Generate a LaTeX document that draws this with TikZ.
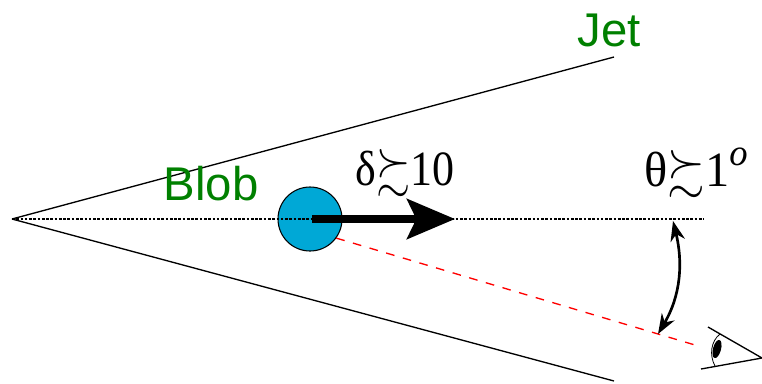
\documentclass[tikz,border=0pt]{standalone}
\usepackage{xcolor}
\usepackage{amsmath}
\usepackage{amssymb}
\usepackage{fontspec}
\setmainfont{Liberation Serif}
\newfontfamily\labelfont{Liberation Sans}
\usetikzlibrary{arrows.meta,positioning,shapes.geometric}
\definecolor{blobblue}{HTML}{00A8D6}
\definecolor{labelgreen}{HTML}{008000}

\begin{document}
\begin{tikzpicture}[
        x=0.75pt,
        y=-0.75pt,
        greenlabel/.style={
            text=labelgreen,
            inner sep=0pt,
            font=\labelfont\fontsize{35.5}{38}\selectfont
        },
        mathlabel/.style={
            inner sep=0pt,
            transform shape,
            yscale=1.12,
            font=\fontsize{33}{36}\selectfont
        },
        jetline/.style={line width=1pt},
        axisline/.style={line width=0.85pt, dash pattern=on 2pt off 1.2pt},
        sightline/.style={red, line width=1pt, dash pattern=on 6.5pt off 6.5pt},
        velocity/.style={line width=5.5pt, -{Stealth[length=36pt, width=30pt, inset=7pt]}},
        angle/.style={line width=2pt, {Stealth[length=15pt, width=11pt]}-{Stealth[length=15pt, width=11pt]}}
    ]
        \useasboundingbox (0,0) rectangle (762,383);

        % Jet cone and axis
        \coordinate (apex) at (12,219);
        \coordinate (jettop) at (614,57);
        \coordinate (jetbottom) at (614,381);
        \coordinate (axisend) at (704,219);
        \coordinate (sightend) at (695,345);
        \draw[jetline] (apex) -- (jettop);
        \draw[jetline] (apex) -- (jetbottom);

        % Blob and velocity arrow
        \node[circle, draw, fill=blobblue, line width=0.8pt, minimum size=48pt, inner sep=0pt] (blob) at (310,219) {};
        \draw[axisline] (apex) -- (axisend);
        \coordinate (arrowtip) at (455,219);
        \draw[velocity] ([xshift=1.5pt]blob.center) -- (arrowtip);
        \draw[sightline] (blob.-36) -- (sightend);

        % Viewing angle
        \coordinate (angletop) at (673,221);
        \coordinate (anglebottom) at (658,334);
        \draw[angle] (angletop) .. controls (683,262) and (681,295) .. (anglebottom);

        % Eye
        \coordinate (eyecorner) at (762,358);
        \coordinate (liptop) at (708,327);
        \coordinate (lipbottom) at (701,369);
        \draw[jetline] (liptop) -- (eyecorner) -- (lipbottom);
        \draw[line width=0.6pt] (720,334) .. controls (711,341) and (709,355) .. (715,366);
        \node[ellipse, fill=black, minimum width=6pt, minimum height=14pt, inner sep=0pt, rotate=-15] (pupil) at (717,349) {};

        % Labels
        \node[greenlabel] (bloblabel) at (211,184) {Blob};
        \node[greenlabel] (jetlabel) at (609,30) {Jet};
        \node[mathlabel] (dopplerlabel) at (405,173) {δ$\succsim$10};
        \node[mathlabel, xscale=1.1] (anglelabel) at (696,173) {θ$\succsim$1\raisebox{0.42em}{\fontsize{25}{25}\selectfont\textit{o}}};
    \end{tikzpicture}
\end{document}
